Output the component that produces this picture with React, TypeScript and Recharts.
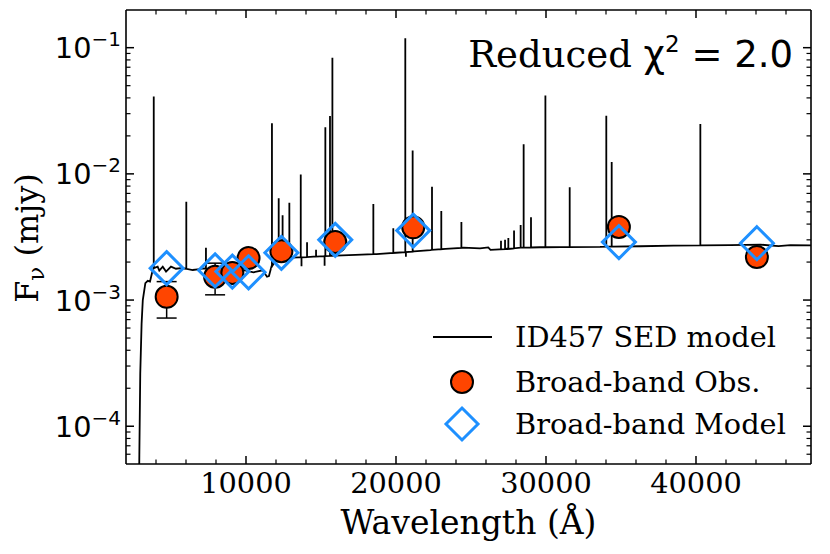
import React from 'react';
import { ComposedChart, Line, Scatter, XAxis, YAxis, ErrorBar, Legend } from 'recharts';

// SED model continuum, wavelength in Angstrom, flux in mJy
const contWl = [2850, 2890, 2950, 3040, 3120, 3290, 3450, 3600, 3730, 3840, 4110, 4220, 4450, 4670, 5000, 5330, 5670, 6010, 6450, 6780, 7200, 7930, 8930, 9930, 10500, 11110, 11400, 11530, 11700, 12000, 12400, 13000, 13530, 14500, 16000, 17300, 18700, 20000, 21200, 22300, 23300, 24500, 25600, 26150, 26300, 26900, 27400, 28300, 29600, 31000, 33600, 36300, 38500, 40300, 42300, 44300, 45500, 46300, 47700];
const contFlux = [2e-5, 6e-5, 2.6e-4, 6.5e-4, 1.0e-3, 1.36e-3, 1.42e-3, 1.40e-3, 1.63e-3, 1.79e-3, 1.84e-3, 1.71e-3, 1.84e-3, 1.68e-3, 1.84e-3, 1.77e-3, 1.79e-3, 1.77e-3, 1.73e-3, 1.75e-3, 1.78e-3, 1.74e-3, 1.73e-3, 1.72e-3, 1.66e-3, 1.72e-3, 1.53e-3, 1.55e-3, 1.85e-3, 2.08e-3, 2.14e-3, 2.17e-3, 2.18e-3, 2.21e-3, 2.25e-3, 2.28e-3, 2.31e-3, 2.37e-3, 2.43e-3, 2.49e-3, 2.54e-3, 2.6e-3, 2.57e-3, 2.61e-3, 2.5e-3, 2.52e-3, 2.55e-3, 2.6e-3, 2.62e-3, 2.63e-3, 2.64e-3, 2.67e-3, 2.7e-3, 2.71e-3, 2.72e-3, 2.75e-3, 2.68e-3, 2.72e-3, 2.71e-3];

// emission lines of the model: position, continuum at the foot, peak
const emWl = [3850, 6020, 7330, 11730, 12180, 12440, 12890, 13650, 14070, 14670, 15290, 15600, 15760, 18490, 19820, 20620, 21110, 22400, 23020, 24360, 27000, 27270, 27490, 27870, 28310, 28510, 29000, 29960, 31580, 34020, 34380, 40290];
const emBase = [1.79e-3, 1.77e-3, 1.77e-3, 1.85e-3, 2.1e-3, 2.14e-3, 2.16e-3, 2.18e-3, 2.19e-3, 2.21e-3, 2.23e-3, 2.24e-3, 2.24e-3, 2.31e-3, 2.36e-3, 2.4e-3, 2.42e-3, 2.5e-3, 2.53e-3, 2.59e-3, 2.52e-3, 2.53e-3, 2.54e-3, 2.57e-3, 2.6e-3, 2.6e-3, 2.61e-3, 2.62e-3, 2.63e-3, 2.65e-3, 2.65e-3, 2.71e-3];
const emPeak = [0.041, 6.0e-3, 2.6e-3, 0.0252, 6.4e-3, 4.7e-3, 5.9e-3, 9.9e-3, 2.87e-3, 2.5e-3, 0.0234, 0.0288, 0.0833, 5.78e-3, 3.7e-3, 0.119, 0.0153, 7.9e-3, 5.08e-3, 4.16e-3, 2.95e-3, 3.0e-3, 3.1e-3, 3.55e-3, 3.94e-3, 0.0172, 4.53e-3, 0.0417, 7.83e-3, 0.0289, 0.0124, 0.0248];

// small absorption dips
const absWl = [13700, 15240, 20660];
const absBase = [2.18e-3, 2.23e-3, 2.4e-3];
const absDip = [1.85e-3, 1.87e-3, 2.2e-3];

// broad-band photometry
const bandWl = [4710, 7940, 9090, 10170, 12360, 15950, 21150, 34860, 44060];
const obsFlux = [1.06e-3, 1.53e-3, 1.64e-3, 2.15e-3, 2.44e-3, 2.88e-3, 3.77e-3, 3.8e-3, 2.19e-3];
const obsErr = [3.4e-4, 4.3e-4, 0, 0, 0, 0, 0, 0, 0];
const modFlux = [1.79e-3, 1.72e-3, 1.68e-3, 1.66e-3, 2.37e-3, 3.0e-3, 3.55e-3, 2.88e-3, 2.82e-3];

const xMajor = [10000, 20000, 30000, 40000];
const xMinor = [4000, 6000, 8000, 12000, 14000, 16000, 18000, 22000, 24000, 26000, 28000, 32000, 34000, 36000, 38000, 42000, 44000, 46000];
const yMajor = [1e-4, 1e-3, 1e-2, 1e-1];
const yMajorExp = ['−4', '−3', '−2', '−1'];
const yMinor = [6e-5, 7e-5, 8e-5, 9e-5, 2e-4, 3e-4, 4e-4, 5e-4, 6e-4, 7e-4, 8e-4, 9e-4, 2e-3, 3e-3, 4e-3, 5e-3, 6e-3, 7e-3, 8e-3, 9e-3, 2e-2, 3e-2, 4e-2, 5e-2, 6e-2, 7e-2, 8e-2, 9e-2];

const X_DOMAIN = [2000, 47667];
const Y_DOMAIN = [5.02e-5, 0.1989];

const sedData = [
  ...contWl.map((wl, i) => ({ wl, f: contFlux[i] })),
  ...emWl.flatMap((wl, i) => [{ wl, f: emBase[i] }, { wl, f: emPeak[i] }, { wl, f: emBase[i] }]),
  ...absWl.flatMap((wl, i) => [{ wl, f: absBase[i] }, { wl, f: absDip[i] }, { wl, f: absBase[i] }]),
].sort((a, b) => a.wl - b.wl);

const obsData = bandWl.map((wl, i) => ({ wl, f: obsFlux[i], err: obsErr[i] }));
const modData = bandWl.map((wl, i) => ({ wl, f: modFlux[i] }));

const SERIF = 'DejaVu Serif';
const SANS = 'DejaVu Sans';
const ORANGE = '#ff4500';
const BLUE = '#1e90ff';

const xIsMajor = (v: number) => xMajor.includes(v);
const yIsMajor = (v: number) => yMajor.includes(v);

const XTickBottom = (props: any) => {
  const { x, y, payload } = props;
  const major = xIsMajor(payload.value);
  return (
    <g>
      <line x1={x} x2={x} y1={y} y2={y - (major ? 8 : 4.5)} stroke="#000" strokeWidth={major ? 1.5 : 1.2} />
      {major && (
        <text x={x} y={y + 29} textAnchor="middle" fontFamily={SERIF} fontSize={28.8} fill="#000">
          {payload.value}
        </text>
      )}
    </g>
  );
};

const XTickTop = (props: any) => {
  const { x, y, payload } = props;
  const major = xIsMajor(payload.value);
  return <line x1={x} x2={x} y1={y} y2={y + (major ? 8 : 4.5)} stroke="#000" strokeWidth={major ? 1.5 : 1.2} />;
};

const YTickLeft = (props: any) => {
  const { x, y, payload } = props;
  const idx = yMajor.indexOf(payload.value);
  const major = idx >= 0;
  return (
    <g>
      <line x1={x} x2={x + (major ? 8 : 4.5)} y1={y} y2={y} stroke="#000" strokeWidth={major ? 1.5 : 1.2} />
      {major && (
        <text x={x - 5} y={y + 10.5} textAnchor="end" fontFamily={SANS} fontSize={28.8} fill="#000">
          10
          <tspan dy={-12} fontSize={20}>{yMajorExp[idx]}</tspan>
        </text>
      )}
    </g>
  );
};

const YTickRight = (props: any) => {
  const { x, y, payload } = props;
  const major = yIsMajor(payload.value);
  return <line x1={x} x2={x - (major ? 8 : 4.5)} y1={y} y2={y} stroke="#000" strokeWidth={major ? 1.5 : 1.2} />;
};

const renderLegend = () => (
  <svg width={400} height={130}>
    <line x1={13} x2={72} y1={22} y2={22} stroke="#000" strokeWidth={1.8} />
    <text x={95} y={32} fontFamily={SERIF} fontSize={28.8} fill="#000">ID457 SED model</text>
    <circle cx={42} cy={67} r={11} fill={ORANGE} stroke="#000" strokeWidth={2} />
    <text x={95} y={77} fontFamily={SERIF} fontSize={28.8} fill="#000">Broad-band Obs.</text>
    <polygon points="42,93 58,109 42,125 26,109" fill="none" stroke={BLUE} strokeWidth={3} />
    <text x={95} y={119} fontFamily={SERIF} fontSize={28.8} fill="#000">Broad-band Model</text>
  </svg>
);

const ObsDot = (props: any) => (
  <circle cx={props.cx} cy={props.cy} r={11} fill={ORANGE} stroke="#000" strokeWidth={2} />
);

const ModDiamond = (props: any) => {
  const { cx, cy } = props;
  const h = 16.5;
  return (
    <polygon
      points={`${cx},${cy - h} ${cx + h},${cy} ${cx},${cy + h} ${cx - h},${cy}`}
      fill="none"
      stroke={BLUE}
      strokeWidth={3}
    />
  );
};

const axisLine = { stroke: '#000', strokeWidth: 1.6 };

export default function App() {
  return (
    <div style={{ position: 'absolute', left: 0, top: 0, width: 830, height: 554, background: '#fff' }}>
      <ComposedChart width={830} height={554} margin={{ top: 9, right: 18, bottom: 0, left: 0 }}>
        <XAxis
          dataKey="wl"
          type="number"
          domain={X_DOMAIN}
          allowDataOverflow
          ticks={[...xMajor, ...xMinor]}
          interval={0}
          tick={XTickBottom}
          tickSize={0}
          tickMargin={0}
          axisLine={axisLine}
          height={90}
        />
        <XAxis
          xAxisId="top"
          orientation="top"
          dataKey="wl"
          type="number"
          domain={X_DOMAIN}
          allowDataOverflow
          ticks={[...xMajor, ...xMinor]}
          interval={0}
          tick={XTickTop}
          tickSize={0}
          tickMargin={0}
          axisLine={axisLine}
          height={1}
        />
        <YAxis
          dataKey="f"
          type="number"
          scale="log"
          domain={Y_DOMAIN}
          allowDataOverflow
          ticks={[...yMajor, ...yMinor]}
          interval={0}
          tick={YTickLeft}
          tickSize={0}
          tickMargin={0}
          axisLine={axisLine}
          width={126}
        />
        <YAxis
          yAxisId="right"
          orientation="right"
          dataKey="f"
          type="number"
          scale="log"
          domain={Y_DOMAIN}
          allowDataOverflow
          ticks={[...yMajor, ...yMinor]}
          interval={0}
          tick={YTickRight}
          tickSize={0}
          tickMargin={0}
          axisLine={axisLine}
          width={1}
        />
        <Line
          data={sedData}
          dataKey="f"
          name="ID457 SED model"
          type="linear"
          stroke="#000"
          strokeWidth={1.8}
          dot={false}
          activeDot={false}
          isAnimationActive={false}
        />
        <Scatter data={obsData} dataKey="f" name="Broad-band Obs." shape={ObsDot} isAnimationActive={false}>
          <ErrorBar dataKey="err" direction="y" width={10} stroke="#000" strokeWidth={1.5} isAnimationActive={false} />
        </Scatter>
        <Scatter data={modData} dataKey="f" name="Broad-band Model" shape={ModDiamond} isAnimationActive={false} />
        <Legend
          layout="vertical"
          align="center"
          verticalAlign="middle"
          content={renderLegend}
          wrapperStyle={{ left: 420, top: 315, width: 400, height: 130 }}
        />
        <text x={793} y={66.5} textAnchor="end" fontSize={37} fill="#000">
          <tspan fontFamily={SERIF}>Reduced </tspan>
          <tspan fontFamily={SANS}>χ</tspan>
          <tspan fontFamily={SANS} fontSize={23} dy={-15}>2</tspan>
          <tspan fontFamily={SANS} dy={15}> = 2.0</tspan>
        </text>
        <text x={468.5} y={534} textAnchor="middle" fontFamily={SERIF} fontSize={33} fill="#000">
          Wavelength (Å)
        </text>
        <text x={38} y={238} textAnchor="middle" fontFamily={SERIF} fontSize={32} fill="#000" transform="rotate(-90 38 238)">
          F<tspan fontSize={23} dy={6}>ν</tspan>
          <tspan dy={-6}> (mjy)</tspan>
        </text>
      </ComposedChart>
    </div>
  );
}
